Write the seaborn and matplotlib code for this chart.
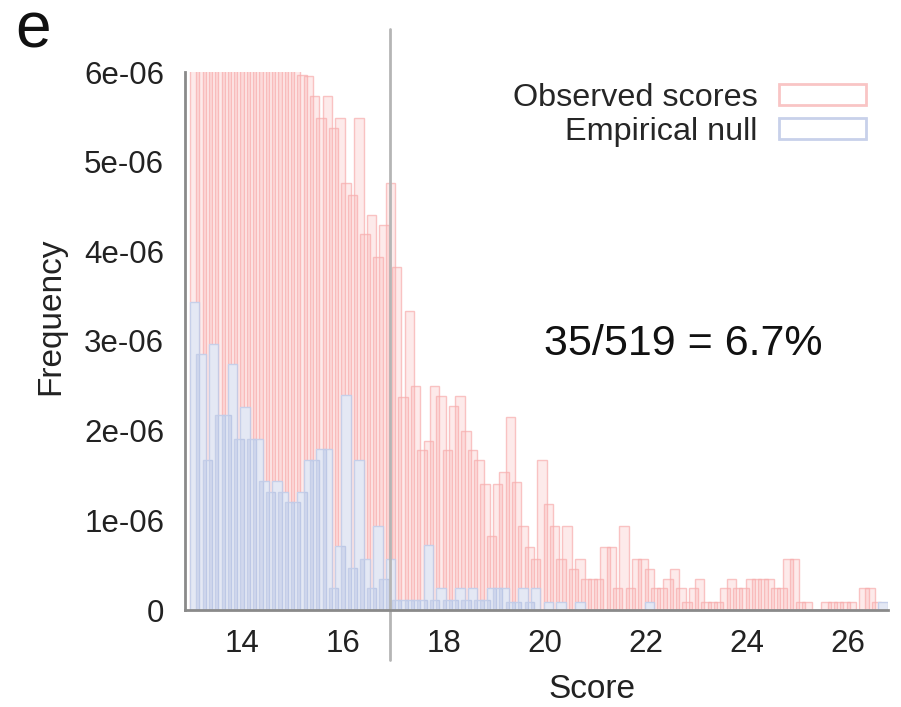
import numpy as np
import pandas as pd
import matplotlib
matplotlib.use("Agg")
import matplotlib.pyplot as plt
import seaborn as sns
from matplotlib.patches import Patch

# ---------------- data (values in units of 1e-06) ----------------
bin_start = 13.0
bin_width = 0.125
observed = [9.6, 9.4, 9.1, 8.9, 8.7, 8.5, 8.3, 8.1, 7.9, 7.7,
            7.5, 7.3, 7.1, 6.9, 6.7, 6.5, 6.3, 5.97, 5.96, 5.73,
            5.49, 5.73, 5.37, 5.49, 4.76, 4.63, 5.49, 4.19, 4.41, 3.94,
            4.29, 4.76, 3.82, 2.37, 3.33, 2.50, 1.78, 1.89, 2.50, 2.39,
            1.78, 2.28, 2.39, 2.00, 1.78, 1.67, 1.41, 0.83, 1.41, 1.54,
            2.15, 1.43, 0.94, 0.70, 0.57, 1.67, 1.18, 0.94, 0.57, 0.94,
            0.46, 0.57, 0.35, 0.35, 0.35, 0.70, 0.70, 0.24, 0.94, 0.24,
            0.57, 0.57, 0.46, 0.24, 0.24, 0.35, 0.46, 0.24, 0.09, 0.24,
            0.35, 0.09, 0.09, 0.09, 0.24, 0.35, 0.24, 0.24, 0.35, 0.35,
            0.35, 0.35, 0.24, 0.24, 0.57, 0.57, 0.09, 0.09, 0.0, 0.0,
            0.09, 0.09, 0.09, 0.09, 0.09, 0.0, 0.24, 0.24, 0.09, 0.0]
empirical_null = [3.44, 2.85, 1.67, 2.97, 2.17, 2.17, 2.74, 1.91, 2.26, 1.91,
                  1.91, 1.44, 1.32, 1.44, 1.32, 1.20, 1.20, 1.32, 1.67, 1.67,
                  1.79, 1.79, 0.24, 0.71, 2.40, 0.47, 1.67, 0.57, 0.24, 0.94,
                  0.35, 0.57, 0.11, 0.11, 0.11, 0.11, 0.11, 0.72, 0.11, 0.24,
                  0.11, 0.11, 0.24, 0.11, 0.24, 0.11, 0.11, 0.24, 0.24, 0.24,
                  0.09, 0.09, 0.24, 0.09, 0.24, 0.0, 0.09, 0.0, 0.09, 0.0,
                  0.0, 0.09, 0.0, 0.0, 0.0, 0.0, 0.0, 0.0, 0.0, 0.0,
                  0.0, 0.0, 0.09, 0.0, 0.0, 0.0, 0.0, 0.0, 0.0, 0.0,
                  0.0, 0.0, 0.0, 0.0, 0.0, 0.0, 0.0, 0.0, 0.0, 0.0,
                  0.0, 0.0, 0.0, 0.0, 0.0, 0.0, 0.0, 0.0, 0.0, 0.0,
                  0.0, 0.0, 0.0, 0.0, 0.0, 0.0, 0.0, 0.0, 0.0, 0.09]
series_labels = ["Observed scores", "Empirical null"]
xtick_values = [14, 16, 18, 20, 22, 24, 26]
ytick_values = [0, 1e-06, 2e-06, 3e-06, 4e-06, 5e-06, 6e-06]
ytick_labels = ["0", "1e-06", "2e-06", "3e-06", "4e-06", "5e-06", "6e-06"]
threshold = 16.93
annotation = "35/519 = 6.7%"
annotation_pos = (22.73, 2.97e-06)
panel_label = "e"

# ---------------- styling ----------------
sns.set_style("white")
plt.rcParams["font.family"] = ["Liberation Sans", "DejaVu Sans"]

red_face = (0.98, 0.66, 0.66, 0.24)
red_edge = (0.97, 0.68, 0.68, 0.70)
blue_face = (0.68, 0.73, 0.88, 0.33)
blue_edge = (0.76, 0.80, 0.91, 0.90)

n = len(observed)
bin_range = (bin_start, bin_start + bin_width * n)
centers = bin_start + bin_width * (np.arange(n) + 0.5)
df = pd.DataFrame({
    "score": centers,
    "observed": np.array(observed) * 1e-6,
    "null": np.array(empirical_null) * 1e-6,
})

fig = plt.figure(figsize=(9.01, 7.07), dpi=100)
ax = fig.add_axes([185 / 901, 97 / 707, 703 / 901, 538 / 707])

common = dict(data=df, x="score", binwidth=bin_width, binrange=bin_range,
              shrink=1.5, element="bars", fill=True, ax=ax)
sns.histplot(weights="observed", facecolor=red_face, edgecolor=red_edge,
             linewidth=1.0, zorder=1, **common)
# white underlay so the null bars hide the observed bars behind them
sns.histplot(weights="null", facecolor=(1, 1, 1, 1), edgecolor="none",
             linewidth=0, zorder=2, **common)
sns.histplot(weights="null", facecolor=blue_face, edgecolor=blue_edge,
             linewidth=1.0, zorder=3, **common)

ax.set_xlim(12.87, 26.79)
ax.set_ylim(0, 6e-06)
ax.set_xticks(xtick_values)
ax.set_xticklabels([str(v) for v in xtick_values])
ax.set_yticks(ytick_values)
ax.set_yticklabels(ytick_labels)

for side in ["top", "right"]:
    ax.spines[side].set_visible(False)
for side in ["left", "bottom"]:
    ax.spines[side].set_color("#8a8a8a")
    ax.spines[side].set_linewidth(2)
    ax.spines[side].set_zorder(5)

ax.tick_params(axis="both", direction="in", length=5, width=1.5, color="#707070",
               labelsize=22.5, labelcolor="#222222")
ax.tick_params(axis="x", pad=14)
ax.tick_params(axis="y", pad=15)

ax.set_xlabel("Score", fontsize=24, color="#222222")
ax.set_ylabel("Frequency", fontsize=24, color="#222222")
ax.xaxis.set_label_coords((592 - 185) / 703, (610 - 674) / 538)
ax.yaxis.set_label_coords((66 - 185) / 703, (610 - 316) / 538)

ax.axvline(threshold, ymin=-0.093, ymax=1.08, clip_on=False, color="#b5b5b5",
           lw=2, zorder=4)

ax.text(annotation_pos[0], annotation_pos[1], annotation, fontsize=31,
        ha="center", va="center", color="#111111")

handles = [Patch(facecolor="none", edgecolor=red_edge, linewidth=2),
           Patch(facecolor="none", edgecolor=blue_edge, linewidth=2)]
ax.legend(handles, series_labels, loc="upper right",
          bbox_to_anchor=((866 - 185) / 703, (610 - 83) / 538),
          markerfirst=False, frameon=False, fontsize=23.3, handlelength=2.7,
          handleheight=0.6, labelspacing=0.12, handletextpad=0.65,
          borderaxespad=0, borderpad=0)

fig.text(15 / 901, 1 - 31 / 707, panel_label, fontsize=46,
         va="center", ha="left", color="#111111")

fig.savefig("out.png", dpi=100)
